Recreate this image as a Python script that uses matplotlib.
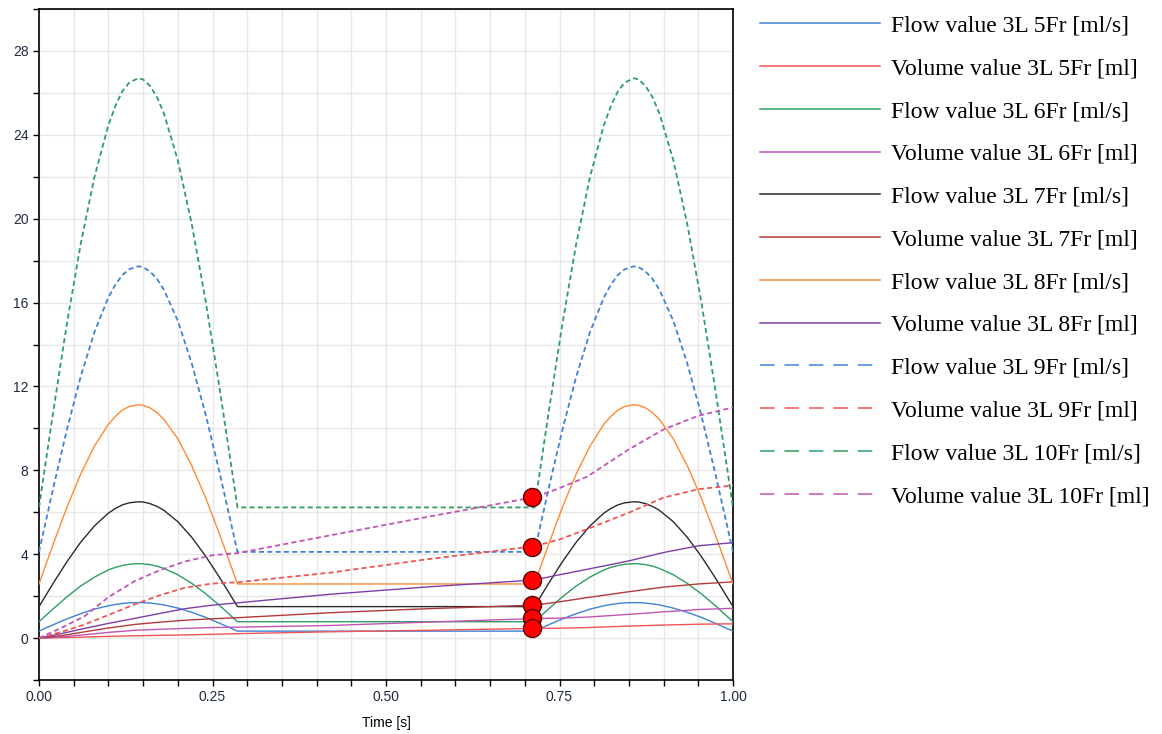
import matplotlib
matplotlib.use("Agg")
import matplotlib.pyplot as plt
from matplotlib.lines import Line2D
from matplotlib.ticker import MultipleLocator

# --- data ---
t_flow = [0.0, 0.02, 0.04, 0.06, 0.08, 0.10, 0.11, 0.12, 0.13, 0.143, 0.15, 0.16, 0.17, 0.18, 0.20, 0.22, 0.24, 0.26, 0.286,
          0.714, 0.734, 0.754, 0.774, 0.794, 0.814, 0.824, 0.834, 0.844, 0.857, 0.864, 0.874, 0.884, 0.894, 0.914, 0.934,
          0.954, 0.974, 1.0]

flow_5 = [0.33, 0.63, 0.91, 1.16, 1.38, 1.54, 1.60, 1.65, 1.68, 1.69, 1.69, 1.67, 1.63, 1.58, 1.43, 1.23, 0.99, 0.71, 0.33]
flow_6 = [0.78, 1.38, 1.96, 2.48, 2.91, 3.25, 3.37, 3.46, 3.52, 3.55, 3.54, 3.50, 3.43, 3.32, 3.02, 2.61, 2.12, 1.56, 0.78]
flow_7 = [1.50, 2.59, 3.63, 4.57, 5.35, 5.96, 6.18, 6.35, 6.45, 6.50, 6.49, 6.41, 6.28, 6.09, 5.55, 4.81, 3.91, 2.90, 1.50]
flow_8 = [2.58, 4.44, 6.22, 7.82, 9.16, 10.20, 10.57, 10.87, 11.04, 11.13, 11.10, 10.98, 10.75, 10.43, 9.50, 8.23, 6.70,
          4.97, 2.58]
flow_9 = [4.11, 7.08, 9.91, 12.46, 14.60, 16.25, 16.85, 17.31, 17.59, 17.73, 17.69, 17.48, 17.13, 16.61, 15.13, 13.11,
          10.68, 7.92, 4.11]
flow_10 = [6.23, 10.69, 14.95, 18.78, 22.00, 24.47, 25.37, 26.07, 26.49, 26.70, 26.64, 26.33, 25.80, 25.02, 22.79, 19.76,
           16.10, 11.96, 6.23]

t_vol = [0.0, 0.033, 0.066, 0.1, 0.138, 0.175, 0.21, 0.25, 0.286, 0.42, 0.56, 0.714,
         0.75, 0.79, 0.85, 0.9, 0.95, 1.0]
vol_5 = [0, 0.02, 0.05, 0.08, 0.11, 0.13, 0.15, 0.18, 0.21, 0.30, 0.37, 0.46, 0.47, 0.50, 0.57, 0.62, 0.66, 0.68]
vol_6 = [0, 0.06, 0.16, 0.27, 0.37, 0.42, 0.46, 0.50, 0.52, 0.60, 0.76, 0.93, 0.95, 1.00, 1.13, 1.25, 1.36, 1.42]
vol_7 = [0, 0.12, 0.30, 0.48, 0.65, 0.76, 0.85, 0.92, 0.97, 1.21, 1.40, 1.57, 1.73, 1.93, 2.21, 2.43, 2.58, 2.68]
vol_8 = [0, 0.22, 0.46, 0.70, 0.94, 1.18, 1.40, 1.57, 1.68, 2.09, 2.44, 2.77, 3.02, 3.28, 3.68, 4.08, 4.40, 4.55]
vol_9 = [0, 0.30, 0.65, 1.10, 1.61, 2.05, 2.40, 2.60, 2.66, 3.12, 3.76, 4.38, 4.70, 5.20, 5.98, 6.70, 7.10, 7.28]
vol_10 = [0, 0.50, 1.05, 1.95, 2.72, 3.25, 3.65, 3.95, 4.05, 4.90, 5.78, 6.72, 7.15, 7.70, 9.00, 9.95, 10.60, 11.00]

dot_time = 0.711
dot_values = [6.74, 4.35, 2.77, 1.58, 0.96, 0.48]

labels = ["Flow value 3L 5Fr [ml/s]", "Volume value 3L 5Fr [ml]",
          "Flow value 3L 6Fr [ml/s]", "Volume value 3L 6Fr [ml]",
          "Flow value 3L 7Fr [ml/s]", "Volume value 3L 7Fr [ml]",
          "Flow value 3L 8Fr [ml/s]", "Volume value 3L 8Fr [ml]",
          "Flow value 3L 9Fr [ml/s]", "Volume value 3L 9Fr [ml]",
          "Flow value 3L 10Fr [ml/s]", "Volume value 3L 10Fr [ml]"]
couleurs = ["#3f82d6", "#f25454", "#2f9e62", "#c254b4", "#2b2b2b", "#b23a3a",
            "#ff8a33", "#7b3fa6", "#3f82d6", "#f25454", "#2f9e62", "#c254b4"]

flows = [flow_5, flow_6, flow_7, flow_8, flow_9, flow_10]
vols = [vol_5, vol_6, vol_7, vol_8, vol_9, vol_10]

fig = plt.figure(figsize=(11.62, 7.34), dpi=100)
ax = fig.add_axes([39 / 1162, 54 / 734, 694 / 1162, 671 / 734])

tick_font = ["Liberation Sans Narrow", "Liberation Sans", "DejaVu Sans"]
dash_plot = (0, (2.8, 1.8))
dash_leg = (0, (9.5, 6.5))

handles = []
for i in range(6):
    dashed = i >= 4
    ls = dash_plot if dashed else "-"
    lw = 1.3 if dashed else 1.0
    cf, cv = couleurs[2 * i], couleurs[2 * i + 1]
    # the two cardiac cycles have the same flow curve
    ax.plot(t_flow, flows[i] + flows[i], color=cf, lw=lw, ls=ls, zorder=3)
    ax.plot(t_vol, vols[i], color=cv, lw=lw, ls=ls, zorder=3)
    lls = dash_leg if dashed else "-"
    handles.append(Line2D([], [], color=cf, lw=1.1, ls=lls))
    handles.append(Line2D([], [], color=cv, lw=1.1, ls=lls))

ax.plot([dot_time] * len(dot_values), dot_values, "o", ms=13, mfc="#ff0000",
        mec="#5a0000", mew=1.0, ls="none", zorder=5)

ax.set_xlim(0, 1)
ax.set_ylim(-2, 30)
ax.xaxis.set_major_locator(MultipleLocator(0.25))
ax.xaxis.set_minor_locator(MultipleLocator(0.05))
ax.yaxis.set_major_locator(MultipleLocator(4))
ax.yaxis.set_minor_locator(MultipleLocator(2))
ax.set_xticklabels([f"{v:.2f}" for v in ax.get_xticks()])
ax.grid(True, which="both", color="#e8e8e8", lw=1.0, zorder=0)
ax.set_axisbelow(True)
ax.tick_params(which="both", direction="out", length=4, width=1.0, colors="black",
               labelcolor="#1e2a40", labelsize=10)
for lab in ax.get_xticklabels() + ax.get_yticklabels():
    lab.set_family(tick_font)
for s in ax.spines.values():
    s.set_linewidth(1.2)
ax.set_xlabel("Time [s]", family=tick_font, fontsize=10, labelpad=8)

fig.legend(handles, labels, loc="upper left", bbox_to_anchor=(760 / 1162, 1 - 15 / 734),
           frameon=False, borderpad=0, borderaxespad=0, handlelength=5.1,
           handletextpad=0.45, labelspacing=0.90,
           prop={"family": ["Liberation Serif", "DejaVu Serif"], "size": 17})

plt.savefig("out.png", dpi=100)
